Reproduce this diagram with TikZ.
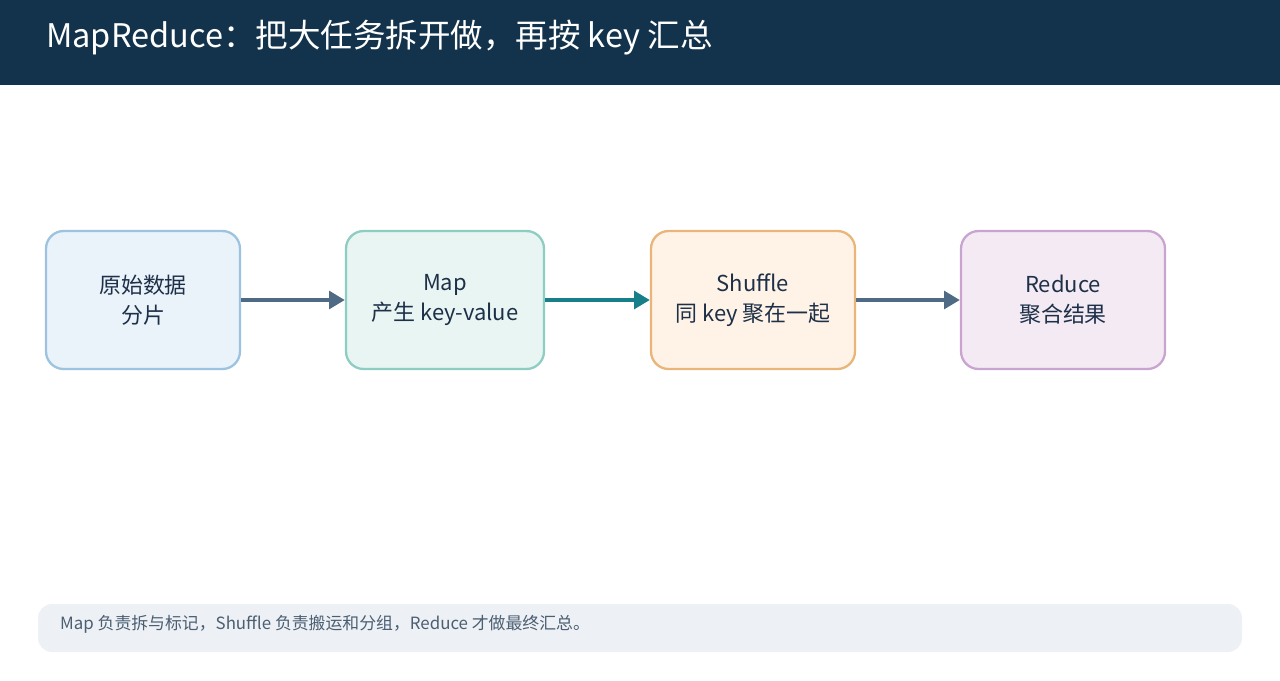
\documentclass[tikz,border=0pt]{standalone}
\usepackage{fontspec}
\setmainfont{Noto Sans CJK SC}
\usepackage{xcolor}
\usetikzlibrary{positioning,arrows.meta}
\definecolor{navy}{HTML}{12334B}
\definecolor{ink}{HTML}{1E3048}
\definecolor{flowgray}{HTML}{4E6A85}
\definecolor{flowteal}{HTML}{167F8A}
\definecolor{splitfill}{HTML}{EAF2FA}\definecolor{splitline}{HTML}{9CC3E0}
\definecolor{mapfill}{HTML}{E8F5F3}\definecolor{mapline}{HTML}{8ECDC2}
\definecolor{shufflefill}{HTML}{FEF3E6}\definecolor{shuffleline}{HTML}{E9B579}
\definecolor{reducefill}{HTML}{F3EAF4}\definecolor{reduceline}{HTML}{C9A4D0}
\definecolor{notefill}{HTML}{EDF1F5}\definecolor{notetext}{HTML}{4B5E72}
\tikzset{
  stagebox/.style={draw, line width=1.3pt, rounded corners=10pt, align=center,
    minimum height=2.76cm, text=ink, font=\fontsize{12.5}{17}\selectfont},
  flow/.style={line width=2.3pt, -{Triangle[length=9pt,width=10pt]}}
}
\begin{document}
\begin{tikzpicture}[x=0.02cm,y=-0.02cm]
            \useasboundingbox (0,0) rectangle (1280,680);
            \fill[navy] (0,0) rectangle (1280,85);
            \node[anchor=west, text=white, font=\fontsize{18.5}{22}\selectfont] (title) at (40,38) {MapReduce：把大任务拆开做，再按 key 汇总};

            \node[stagebox, fill=splitfill, draw=splitline, minimum width=3.88cm] (split) at (143,300) {原始数据\\分片};
            \node[stagebox, fill=mapfill, draw=mapline, minimum width=3.96cm] (map) at (445,300) {Map\\产生 key-value};
            \node[stagebox, fill=shufflefill, draw=shuffleline, minimum width=4.08cm] (shuffle) at (753,300) {Shuffle\\同 key 聚在一起};
            \node[stagebox, fill=reducefill, draw=reduceline, minimum width=4.08cm] (reduce) at (1063,300) {Reduce\\聚合结果};

            \draw[flow, flowgray] (split) -- (map);
            \draw[flow, flowteal] (map) -- (shuffle);
            \draw[flow, flowgray] (shuffle) -- (reduce);

            \fill[notefill, rounded corners=8pt] (38,604) rectangle (1242,652);
            \node[anchor=west, text=notetext, font=\fontsize{9.6}{12}\selectfont] (note) at (54,624) {Map 负责拆与标记，Shuffle 负责搬运和分组，Reduce 才做最终汇总。};
        \end{tikzpicture}
\end{document}
